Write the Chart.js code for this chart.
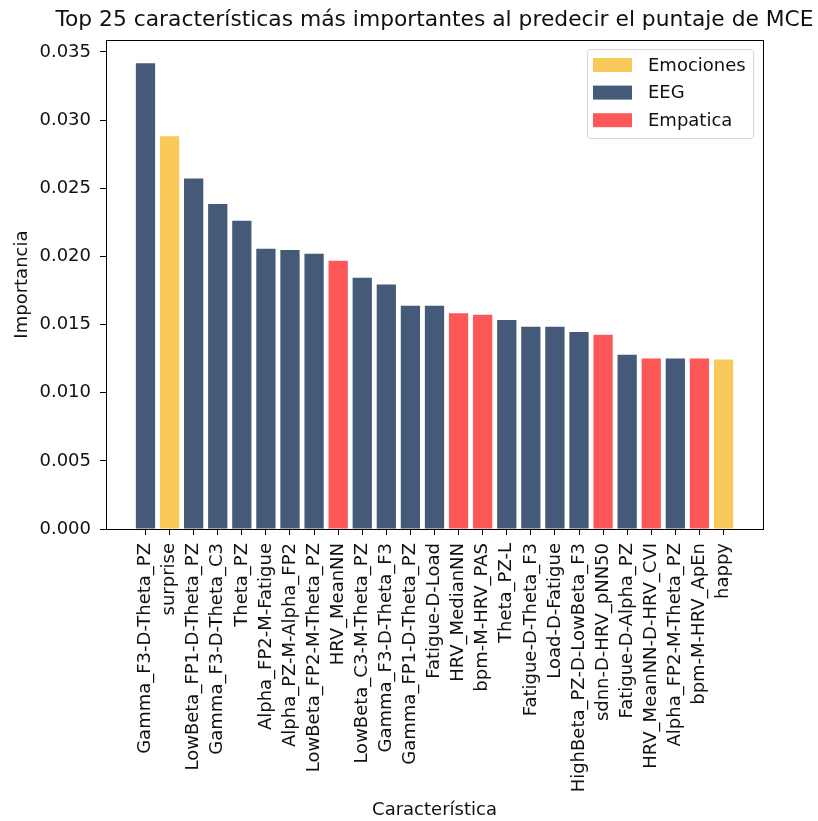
<!DOCTYPE html>
<html>
<head>
<meta charset="utf-8">
<script src="https://cdn.jsdelivr.net/npm/chart.js@4/dist/chart.umd.min.js"></script>
<style>
  body { margin: 0; background: #fff; }
</style>
</head>
<body>
<canvas id="importance_chart" width="818" height="821"></canvas>
<script>
const features = [
  "Gamma_F3-D-Theta_PZ", "surprise", "LowBeta_FP1-D-Theta_PZ", "Gamma_F3-D-Theta_C3",
  "Theta_PZ", "Alpha_FP2-M-Fatigue", "Alpha_PZ-M-Alpha_FP2", "LowBeta_FP2-M-Theta_PZ",
  "HRV_MeanNN", "LowBeta_C3-M-Theta_PZ", "Gamma_F3-D-Theta_F3", "Gamma_FP1-D-Theta_PZ",
  "Fatigue-D-Load", "HRV_MedianNN", "bpm-M-HRV_PAS", "Theta_PZ-L",
  "Fatigue-D-Theta_F3", "Load-D-Fatigue", "HighBeta_PZ-D-LowBeta_F3", "sdnn-D-HRV_pNN50",
  "Fatigue-D-Alpha_PZ", "HRV_MeanNN-D-HRV_CVI", "Alpha_FP2-M-Theta_PZ", "bpm-M-HRV_ApEn",
  "happy"
];
const importance = [
  0.03417, 0.02882, 0.02572, 0.02385, 0.02261, 0.02055, 0.02046, 0.02019,
  0.01967, 0.01843, 0.01794, 0.01637, 0.01637, 0.01582, 0.01571, 0.01533,
  0.01483, 0.01483, 0.01445, 0.01425, 0.01278, 0.01251, 0.01250, 0.01250,
  0.01243
];
const groups = [
  "EEG", "Emociones", "EEG", "EEG", "EEG", "EEG", "EEG", "EEG",
  "Empatica", "EEG", "EEG", "EEG", "EEG", "Empatica", "Empatica", "EEG",
  "EEG", "EEG", "EEG", "Empatica", "EEG", "Empatica", "EEG", "Empatica",
  "Emociones"
];
const groupNames = ["Emociones", "EEG", "Empatica"];
const groupColors = { Emociones: "#f9c95a", EEG: "#455a78", Empatica: "#fe5757" };
const yTicks = [0, 0.005, 0.010, 0.015, 0.020, 0.025, 0.030, 0.035];

(function () {
  const grapharea = document.getElementById("importance_chart");
  const font = { family: "'DejaVu Sans'", size: 18 };
  const textColor = "#111";

  // frame around the axes, like matplotlib spines
  const frame = {
    id: "frame",
    afterDatasetsDraw(chart) {
      const { ctx, chartArea } = chart;
      ctx.save();
      ctx.strokeStyle = "#000";
      ctx.lineWidth = 1;
      ctx.strokeRect(
        Math.round(chartArea.left) + 0.5, Math.round(chartArea.top) + 0.5,
        Math.round(chartArea.right - chartArea.left), Math.round(chartArea.bottom - chartArea.top)
      );
      ctx.restore();
    },
  };

  // matplotlib centres the title over the axes, not over the figure
  const centerTitle = {
    id: "centerTitle",
    afterLayout(chart) {
      const t = chart.titleBlock;
      const mid = (chart.chartArea.left + chart.chartArea.right) / 2;
      const half = Math.min(mid, chart.width - mid);
      t.left = mid - half;
      t.right = mid + half;
      t.width = 2 * half;
    },
  };

  // legend box in the upper right corner of the axes
  const legendBox = {
    id: "legendBox",
    afterDraw(chart) {
      const { ctx, chartArea } = chart;
      ctx.save();
      ctx.font = "18px 'DejaVu Sans'";
      const w = 166;
      const h = 89;
      const x0 = Math.round(chartArea.right - 10 - w);
      const y0 = Math.round(chartArea.top + 9);
      ctx.fillStyle = "rgba(255,255,255,0.8)";
      ctx.strokeStyle = "#d6d6d6";
      ctx.lineWidth = 1;
      ctx.beginPath();
      ctx.roundRect(x0 + 0.5, y0 + 0.5, w, h, 3);
      ctx.fill();
      ctx.stroke();
      groupNames.forEach((name, i) => {
        const cy = y0 + 16 + i * 27.6;
        ctx.fillStyle = groupColors[name];
        ctx.fillRect(x0 + 6, cy - 7, 39, 14);
        ctx.fillStyle = textColor;
        ctx.textBaseline = "middle";
        ctx.fillText(name, x0 + 61, cy + 1);
      });
      ctx.restore();
    },
  };

  const data = {
    datasets: [
      {
        label: "Importancia",
        data: importance.map((v, i) => ({ x: i, y: v })),
        backgroundColor: groups.map((g) => groupColors[g]),
        barPercentage: 0.8,
        categoryPercentage: 1.0,
      },
    ],
  };

  const config = {
    type: "bar",
    data: data,
    options: {
      responsive: false,
      animation: false,
      layout: { padding: { left: 0, right: 55, top: 0, bottom: 0 } },
      scales: {
        x: {
          type: "linear",
          offset: false,
          min: -1.64,
          max: 25.64,
          afterBuildTicks: (axis) => {
            axis.ticks = features.map((_, i) => ({ value: i }));
          },
          afterFit: (axis) => {
            axis.height = 292;
          },
          ticks: {
            autoSkip: false,
            maxRotation: 90,
            minRotation: 90,
            padding: 8,
            font: font,
            color: textColor,
            callback: (v) => features[v],
          },
          grid: { offset: false, drawOnChartArea: false, tickLength: 6, tickColor: "#000" },
          border: { color: "#000" },
          title: {
            display: true,
            text: "Característica",
            font: font,
            color: textColor,
            padding: { top: -3, bottom: 0 },
          },
        },
        y: {
          min: 0,
          max: 0.03586,
          afterBuildTicks: (axis) => {
            axis.ticks = yTicks.map((v) => ({ value: v }));
          },
          afterFit: (axis) => {
            axis.width = 106;
          },
          ticks: {
            padding: 9,
            font: font,
            color: textColor,
            callback: (v) => v.toFixed(3),
          },
          grid: { drawOnChartArea: false, tickLength: 6, tickColor: "#000" },
          border: { color: "#000" },
          title: {
            display: true,
            text: "Importancia",
            font: font,
            color: textColor,
            padding: { top: 12, bottom: 0 },
          },
        },
      },
      plugins: {
        legend: { display: false },
        tooltip: { enabled: false },
        title: {
          display: true,
          text: "Top 25 características más importantes al predecir el puntaje de MCE",
          font: { family: "'DejaVu Sans'", size: 21.8, weight: "normal" },
          color: textColor,
          padding: { top: 7, bottom: 7 },
        },
      },
    },
    plugins: [frame, centerTitle, legendBox],
  };

  new Chart(grapharea, config);
})();
</script>
</body>
</html>
